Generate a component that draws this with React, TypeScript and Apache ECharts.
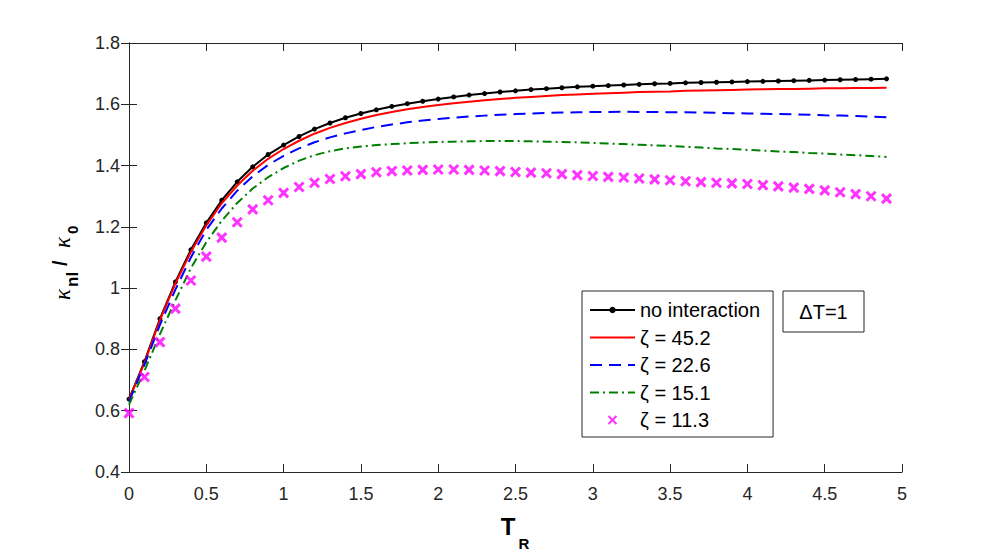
import React, { useEffect, useRef } from "react";
import * as echarts from "echarts";

// Reduced temperature T_R (x values)
const tR = [
  0, 0.1, 0.2, 0.3, 0.4, 0.5, 0.6, 0.7, 0.8, 0.9,
  1.0, 1.1, 1.2, 1.3, 1.4, 1.5, 1.6, 1.7, 1.8, 1.9,
  2.0, 2.1, 2.2, 2.3, 2.4, 2.5, 2.6, 2.7, 2.8, 2.9,
  3.0, 3.1, 3.2, 3.3, 3.4, 3.5, 3.6, 3.7, 3.8, 3.9,
  4.0, 4.1, 4.2, 4.3, 4.4, 4.5, 4.6, 4.7, 4.8, 4.9,
];

// kappa_nl / kappa_0 for each case
const noInteraction = [
  0.638, 0.76, 0.9, 1.02, 1.125, 1.213, 1.287, 1.347, 1.396, 1.436,
  1.467, 1.495, 1.519, 1.539, 1.556, 1.57, 1.582, 1.593, 1.602, 1.61,
  1.617, 1.624, 1.63, 1.635, 1.64, 1.644, 1.648, 1.651, 1.654, 1.657,
  1.659, 1.661, 1.663, 1.665, 1.667, 1.668, 1.67, 1.671, 1.672, 1.673,
  1.674, 1.675, 1.676, 1.677, 1.678, 1.679, 1.68, 1.681, 1.682, 1.683,
];
const zeta452 = [
  0.636, 0.756, 0.896, 1.015, 1.118, 1.205, 1.277, 1.335, 1.383, 1.422,
  1.454, 1.481, 1.504, 1.523, 1.539, 1.553, 1.565, 1.575, 1.584, 1.591,
  1.598, 1.603, 1.608, 1.613, 1.617, 1.621, 1.624, 1.627, 1.63, 1.632,
  1.634, 1.636, 1.638, 1.64, 1.641, 1.642, 1.644, 1.645, 1.646, 1.647,
  1.648, 1.649, 1.65, 1.65, 1.651, 1.652, 1.652, 1.653, 1.653, 1.654,
];
const zeta226 = [
  0.63, 0.75, 0.88, 0.995, 1.1, 1.19, 1.26, 1.318, 1.365, 1.402,
  1.432, 1.456, 1.476, 1.492, 1.505, 1.516, 1.526, 1.534, 1.541, 1.547,
  1.552, 1.556, 1.56, 1.563, 1.566, 1.568, 1.57, 1.572, 1.573, 1.574,
  1.575, 1.575, 1.576, 1.575, 1.575, 1.574, 1.574, 1.573, 1.572, 1.571,
  1.57, 1.569, 1.568, 1.567, 1.566, 1.564, 1.563, 1.562, 1.56, 1.558,
];
const zeta151 = [
  0.62, 0.73, 0.85, 0.96, 1.065, 1.15, 1.22, 1.278, 1.325, 1.362,
  1.392, 1.416, 1.434, 1.447, 1.456, 1.462, 1.467, 1.47, 1.473, 1.475,
  1.477, 1.478, 1.479, 1.48, 1.48, 1.48, 1.479, 1.478, 1.477, 1.476,
  1.474, 1.472, 1.47, 1.468, 1.466, 1.464, 1.461, 1.459, 1.456, 1.454,
  1.451, 1.449, 1.446, 1.444, 1.441, 1.439, 1.436, 1.434, 1.431, 1.428,
];
const zeta113 = [
  0.592, 0.71, 0.824, 0.933, 1.025, 1.103, 1.165, 1.215, 1.257, 1.287,
  1.311, 1.33, 1.344, 1.356, 1.365, 1.372, 1.378, 1.382, 1.384, 1.386,
  1.387, 1.387, 1.386, 1.384, 1.382, 1.379, 1.377, 1.375, 1.372, 1.369,
  1.366, 1.363, 1.361, 1.358, 1.355, 1.352, 1.349, 1.346, 1.344, 1.342,
  1.34, 1.336, 1.332, 1.328, 1.324, 1.319, 1.313, 1.307, 1.3, 1.292,
];

const seriesNames = ["no interaction", "ζ = 45.2", "ζ = 22.6", "ζ = 15.1", "ζ = 11.3"];

const FONT = "'Liberation Sans', Arial, Helvetica, sans-serif";
const AXIS_COLOR = "#262626";

const pairs = (ys: number[]) => tR.map((x, i) => [x, ys[i]]);

export default function App() {
  const ref = useRef<HTMLDivElement>(null);

  useEffect(() => {
    if (!ref.current) return;
    const chart = echarts.init(ref.current, null, { renderer: "svg" });

    const boxAxis = {
      axisLine: { show: true, lineStyle: { color: AXIS_COLOR, width: 1 } },
      axisTick: { show: true, inside: true, length: 8, lineStyle: { color: AXIS_COLOR } },
      splitLine: { show: false },
    };

    const fmt = (v: number) => String(parseFloat(v.toFixed(1)));

    chart.setOption({
      animation: false,
      backgroundColor: "#ffffff",
      grid: { left: 129, top: 43, width: 773, height: 429, containLabel: false },
      xAxis: [
        {
          type: "value",
          min: 0,
          max: 5,
          interval: 0.5,
          ...boxAxis,
          axisLabel: { color: AXIS_COLOR, fontSize: 18, fontFamily: FONT, margin: 13, formatter: fmt },
        },
        {
          type: "value",
          position: "top",
          min: 0,
          max: 5,
          interval: 0.5,
          ...boxAxis,
          axisLabel: { show: false },
        },
      ],
      yAxis: [
        {
          type: "value",
          min: 0.4,
          max: 1.8,
          interval: 0.2,
          ...boxAxis,
          axisLabel: { color: AXIS_COLOR, fontSize: 18, fontFamily: FONT, margin: 9, formatter: fmt },
        },
        {
          type: "value",
          position: "right",
          min: 0.4,
          max: 1.8,
          interval: 0.2,
          ...boxAxis,
          axisLabel: { show: false },
        },
      ],
      legend: {
        orient: "vertical",
        left: 582,
        top: 291,
        itemWidth: 45,
        itemHeight: 8,
        itemGap: 7.5,
        padding: [9, 13, 7, 7],
        borderColor: AXIS_COLOR,
        borderWidth: 1,
        borderRadius: 0,
        backgroundColor: "#ffffff",
        textStyle: { fontSize: 20, lineHeight: 20, fontFamily: FONT, color: "#000000" },
        data: [
          { name: seriesNames[0], itemStyle: { opacity: 1 } },
          { name: seriesNames[1], itemStyle: { opacity: 0 } },
          { name: seriesNames[2], itemStyle: { opacity: 0 } },
          { name: seriesNames[3], itemStyle: { opacity: 0 } },
          { name: seriesNames[4] },
        ],
      },
      series: [
        {
          name: seriesNames[0],
          type: "line",
          data: pairs(noInteraction),
          symbol: "circle",
          symbolSize: 5,
          itemStyle: { color: "#000000" },
          lineStyle: { color: "#000000", width: 2 },
          z: 2,
        },
        {
          name: seriesNames[1],
          type: "line",
          data: pairs(zeta452),
          symbol: "none",
          itemStyle: { color: "#ff0000" },
          lineStyle: { color: "#ff0000", width: 2 },
          z: 3,
        },
        {
          name: seriesNames[2],
          type: "line",
          data: pairs(zeta226),
          symbol: "none",
          itemStyle: { color: "#0000ff" },
          lineStyle: { color: "#0000ff", width: 2, type: [12, 7] },
          z: 4,
        },
        {
          name: seriesNames[3],
          type: "line",
          data: pairs(zeta151),
          symbol: "none",
          itemStyle: { color: "#008000" },
          lineStyle: { color: "#008000", width: 2, type: [9, 4, 2, 4] },
          z: 5,
        },
        {
          name: seriesNames[4],
          type: "scatter",
          data: pairs(zeta113),
          symbol: "path://M0,0L10,10M10,0L0,10",
          symbolSize: 9,
          itemStyle: { color: "none", borderColor: "#ff00ff", borderWidth: 3 },
          z: 6,
        },
      ],
      graphic: [
        // y-axis title: kappa_nl / kappa_0, rotated
        {
          type: "group",
          x: 62,
          y: 300,
          rotation: Math.PI / 2,
          children: [
            {
              type: "text",
              x: 0,
              y: 0,
              style: { text: "κ", font: "italic 23px 'Liberation Serif', serif", fill: "#000", textAlign: "left", textVerticalAlign: "middle" },
            },
            {
              type: "text",
              x: 13,
              y: 10,
              style: { text: "nl", font: `bold 17px ${FONT}`, fill: "#000", textAlign: "left", textVerticalAlign: "middle" },
            },
            {
              type: "text",
              x: 34,
              y: -2,
              style: { text: "/", font: `bold 20px ${FONT}`, fill: "#000", textAlign: "left", textVerticalAlign: "middle" },
            },
            {
              type: "text",
              x: 52,
              y: 0,
              style: { text: "κ", font: "italic 23px 'Liberation Serif', serif", fill: "#000", textAlign: "left", textVerticalAlign: "middle" },
            },
            {
              type: "text",
              x: 66,
              y: 10,
              style: { text: "0", font: `bold 15px ${FONT}`, fill: "#000", textAlign: "left", textVerticalAlign: "middle" },
            },
          ],
        },
        // x-axis title: T_R
        {
          type: "text",
          x: 508,
          y: 526,
          style: { text: "T", font: `bold 24px ${FONT}`, fill: "#000", textAlign: "center", textVerticalAlign: "middle" },
        },
        {
          type: "text",
          x: 524,
          y: 543,
          style: { text: "R", font: `bold 15px ${FONT}`, fill: "#000", textAlign: "center", textVerticalAlign: "middle" },
        },
        // annotation box
        {
          type: "rect",
          shape: { x: 783, y: 291, width: 81, height: 41 },
          style: { fill: "#ffffff", stroke: AXIS_COLOR, lineWidth: 1 },
          z: 10,
        },
        {
          type: "text",
          x: 823.5,
          y: 312,
          style: { text: "ΔT=1", font: `20px ${FONT}`, fill: "#000", textAlign: "center", textVerticalAlign: "middle" },
          z: 11,
        },
      ],
    });

    return () => chart.dispose();
  }, []);

  return (
    <div
      ref={ref}
      style={{ position: "fixed", left: 0, top: 0, width: 996, height: 555, background: "#ffffff" }}
    />
  );
}
